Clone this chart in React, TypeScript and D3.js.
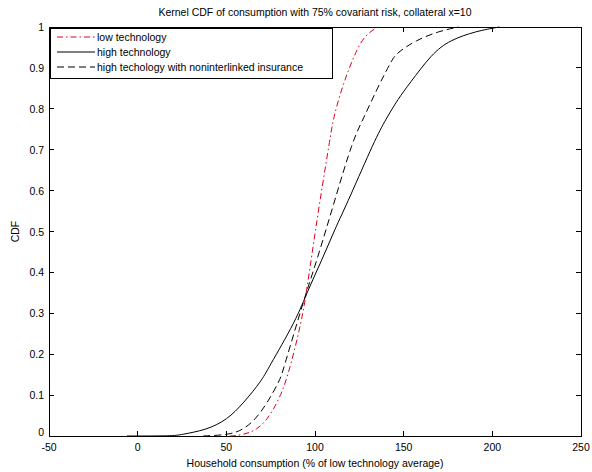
import React, { useEffect, useRef } from 'react';
import * as d3 from 'd3';

// values (x = consumption, y = CDF)
const lowX = [52, 60, 67.4, 73, 78.6, 84.3, 92.7, 95.3, 97.8, 102.8, 108.4, 110.1, 115.2, 122.5, 128, 135.4];
const lowY = [0, 0.003, 0.016, 0.04, 0.08, 0.137, 0.284, 0.357, 0.43, 0.577, 0.724, 0.773, 0.853, 0.936, 0.98, 1.0];

const highX = [-6, 20, 24, 39, 50.5, 59.6, 70.2, 73, 89.5, 96, 103.9, 111, 119, 133.7, 140, 147, 153, 166, 176, 191, 204];
const highY = [0, 0, 0.003, 0.015, 0.04, 0.08, 0.137, 0.161, 0.284, 0.357, 0.43, 0.504, 0.577, 0.724, 0.775, 0.825, 0.86, 0.935, 0.968, 0.99, 1.0];

const insX = [37, 52, 59.6, 66.3, 73, 80.3, 82, 90.4, 95.5, 101.1, 111.2, 121.3, 127, 135.4, 143.3, 146, 157, 170, 181];
const insY = [0, 0.003, 0.016, 0.04, 0.08, 0.137, 0.161, 0.284, 0.357, 0.43, 0.577, 0.724, 0.773, 0.853, 0.919, 0.936, 0.968, 0.99, 1.0];

const xTicks = [-50, 0, 50, 100, 150, 200, 250];
const yTicks = [0, 0.1, 0.2, 0.3, 0.4, 0.5, 0.6, 0.7, 0.8, 0.9, 1];

const legendLabels = ['low technology', 'high technology', 'high techology with noninterlinked insurance'];

const series = [
  { xs: lowX, ys: lowY, color: '#e0001b', dash: '6,3,1.5,3' },
  { xs: highX, ys: highY, color: '#000', dash: null },
  { xs: insX, ys: insY, color: '#000', dash: '7,4' },
];

const App: React.FC = () => {
  const svgRef = useRef<SVGSVGElement>(null);

  useEffect(() => {
    if (!svgRef.current) return;
    const width = 592;
    const height = 472;
    const left = 49, right = 581, top = 27, bottom = 436;
    const font = 'Liberation Sans, Arial, sans-serif';

    const svg = d3.select(svgRef.current);
    svg.selectAll('*').remove();

    svg.append('rect').attr('width', width).attr('height', height).attr('fill', '#fff');

    const x = d3.scaleLinear().domain([-50, 250]).range([left, right]);
    const y = d3.scaleLinear().domain([0, 1]).range([bottom, top]);

    const tickLen = 5;
    const axes = svg.append('g').attr('stroke', '#000').attr('stroke-width', 1).attr('shape-rendering', 'crispEdges');

    // ticks pointing inward, on all four sides
    xTicks.forEach(t => {
      axes.append('line').attr('x1', x(t)).attr('x2', x(t)).attr('y1', bottom).attr('y2', bottom - tickLen);
      axes.append('line').attr('x1', x(t)).attr('x2', x(t)).attr('y1', top).attr('y2', top + tickLen);
    });
    yTicks.forEach(t => {
      axes.append('line').attr('x1', left).attr('x2', left + tickLen).attr('y1', y(t)).attr('y2', y(t));
      axes.append('line').attr('x1', right).attr('x2', right - tickLen).attr('y1', y(t)).attr('y2', y(t));
    });

    // curves (basis spline smooths the hand-read points)
    series.forEach(s => {
      const pts: [number, number][] = s.xs.map((v, i) => [v, s.ys[i]]);
      const line = d3.line<[number, number]>()
        .x(d => x(d[0]))
        .y(d => y(d[1]))
        .curve(d3.curveBasis);
      svg.append('path')
        .attr('d', line(pts))
        .attr('fill', 'none')
        .attr('stroke', s.color)
        .attr('stroke-width', 1)
        .attr('stroke-dasharray', s.dash);
    });

    axes.append('rect')
      .attr('x', left).attr('y', top)
      .attr('width', right - left).attr('height', bottom - top)
      .attr('fill', 'none');

    const txt = svg.append('g').attr('font-family', font).attr('font-size', 10.5).attr('fill', '#000');

    xTicks.forEach(t => {
      txt.append('text').attr('x', x(t)).attr('y', bottom + 15).attr('text-anchor', 'middle').text(t);
    });
    yTicks.forEach(t => {
      txt.append('text').attr('x', left - 5).attr('y', y(t) + (t === 0 ? 0 : 4))
        .attr('text-anchor', 'end').text(t);
    });

    txt.append('text').attr('x', 315).attr('y', 16).attr('text-anchor', 'middle')
      .text('Kernel CDF of consumption with 75% covariant risk, collateral x=10');
    txt.append('text').attr('x', 315).attr('y', 467).attr('text-anchor', 'middle')
      .text('Household consumption (% of low technology average)');
    txt.append('text').attr('transform', `translate(19,${(top + bottom) / 2}) rotate(-90)`)
      .attr('text-anchor', 'middle').text('CDF');

    // legend
    const lg = svg.append('g');
    lg.append('rect').attr('x', 50).attr('y', 28).attr('width', 282).attr('height', 50)
      .attr('fill', '#fff').attr('stroke', '#000').attr('stroke-width', 1).attr('shape-rendering', 'crispEdges');
    legendLabels.forEach((lbl, i) => {
      const ly = 37 + i * 15;
      const s = series[i];
      lg.append('line').attr('x1', 57).attr('x2', 95).attr('y1', ly).attr('y2', ly)
        .attr('stroke', s.color).attr('stroke-width', 1).attr('stroke-dasharray', s.dash);
      lg.append('text').attr('x', 97).attr('y', ly + 4)
        .attr('font-family', font).attr('font-size', 10.5).text(lbl);
    });
  }, []);

  return (
    <svg ref={svgRef} width={592} height={472}
      style={{ position: 'absolute', left: 0, top: 0, display: 'block' }} />
  );
};

export default App;
